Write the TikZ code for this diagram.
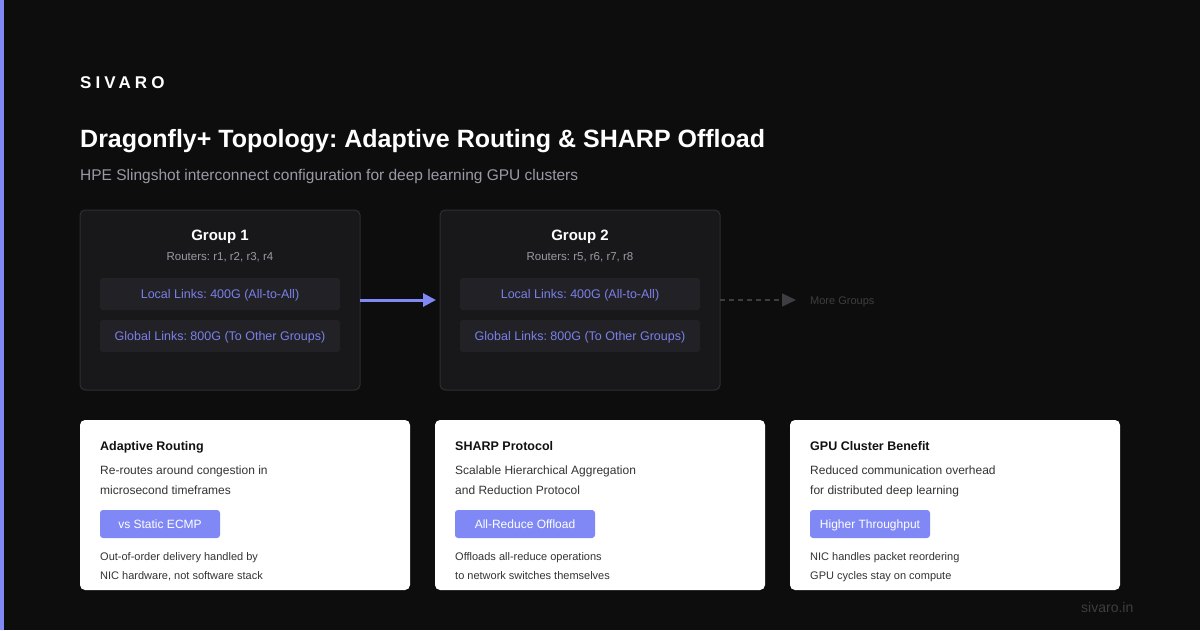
\documentclass[tikz,border=0pt]{standalone}
\usepackage{fontspec}
\setmainfont{Liberation Sans}
\usetikzlibrary{arrows.meta}
\frenchspacing
\definecolor{bg}{HTML}{0D0D0D}
\definecolor{accent}{HTML}{8088F5}
\definecolor{grpfill}{HTML}{18181B}
\definecolor{grpline}{HTML}{2E2E33}
\definecolor{linkfill}{HTML}{222226}
\definecolor{linktext}{HTML}{7A80E8}
\definecolor{subgray}{HTML}{9A9AA6}
\definecolor{dimgray}{HTML}{3E3E42}
\definecolor{cardtitle}{HTML}{111111}
\definecolor{cardbody}{HTML}{333333}
\tikzset{
  txt/.style={inner sep=0pt, anchor=base west},
  ctxt/.style={inner sep=0pt, anchor=base},
  grpbox/.style={draw=grpline, line width=1pt, fill=grpfill, rounded corners=5pt},
  linkbox/.style={fill=linkfill, rounded corners=3pt},
  card/.style={fill=white, rounded corners=5pt},
  badge/.style={fill=accent, rounded corners=3pt},
}
\begin{document}
\begin{tikzpicture}[x=1pt,y=-1pt]
\fill[bg] (0,0) rectangle (1200,630);
\useasboundingbox (0,0) rectangle (1200,630);
\fill[accent] (0,0) rectangle (4,630);

\node[txt, text=white, font=\fontsize{17}{20}\selectfont\bfseries\addfontfeatures{LetterSpace=24}] (logo) at (80,88) {SIVARO};
\node[txt, text=white, font=\fontsize{25}{30}\selectfont\bfseries] (title) at (80,147) {Dragonfly+ Topology: Adaptive Routing \& SHARP Offload};
\node[txt, text=subgray, font=\fontsize{15.5}{18}\selectfont] (sub) at (80,180) {HPE Slingshot interconnect configuration for deep learning GPU clusters};

% Groups
\foreach \gx/\n/\r in {80/1/{r1, r2, r3, r4}, 440/2/{r5, r6, r7, r8}}{
  \path[grpbox] (\gx,210) rectangle ++(280,180);
  \node[ctxt, text=white, font=\fontsize{15}{18}\selectfont\bfseries] (gt\n) at (\gx+140,240) {Group \n};
  \node[ctxt, text=subgray, font=\fontsize{11.5}{13}\selectfont] (gr\n) at (\gx+140,260) {Routers: \r};
  \path[linkbox] (\gx+20,278) rectangle ++(240,32);
  \node[ctxt, text=linktext, font=\fontsize{12.5}{14}\selectfont] (ll\n) at (\gx+140,298.5) {Local Links: 400G (All-to-All)};
  \path[linkbox] (\gx+20,320) rectangle ++(240,32);
  \node[ctxt, text=linktext, font=\fontsize{12.5}{14}\selectfont] (gl\n) at (\gx+140,340.5) {Global Links: 800G (To Other Groups)};
}
\coordinate (g1e) at (360,300);
\coordinate (g2w) at (436,300);
\coordinate (g2e) at (720,300);
\coordinate (more) at (796,300);
\draw[accent, line width=3pt, -{Triangle[length=13pt,width=13pt]}] (g1e) -- (g2w);
\draw[dimgray, line width=1.5pt, dash pattern=on 5pt off 4pt, -{Triangle[length=14pt,width=13pt]}] (g2e) -- (more);
\node[txt, text=dimgray, font=\fontsize{11}{13}\selectfont] (moretxt) at (810,304) {More Groups};

% Cards
\foreach \cx/\k/\t/\la/\lb/\b/\bw/\fa/\fb in {
  80/a/{Adaptive Routing}/{Re-routes around congestion in}/{microsecond timeframes}/{vs Static ECMP}/120/{Out-of-order delivery handled by}/{NIC hardware, not software stack},
  435/b/{SHARP Protocol}/{Scalable Hierarchical Aggregation}/{and Reduction Protocol}/{All-Reduce Offload}/140/{Offloads all-reduce operations}/{to network switches themselves},
  790/c/{GPU Cluster Benefit}/{Reduced communication overhead}/{for distributed deep learning}/{Higher Throughput}/120/{NIC handles packet reordering}/{GPU cycles stay on compute}}{
  \path[card] (\cx,420) rectangle ++(330,170);
  \node[txt, text=cardtitle, font=\fontsize{12.5}{15}\selectfont\bfseries] (ct\k) at (\cx+20,450) {\t};
  \node[txt, text=cardbody, font=\fontsize{12}{14}\selectfont] (cl\k) at (\cx+20,474) {\la};
  \node[txt, text=cardbody, font=\fontsize{12}{14}\selectfont] (cm\k) at (\cx+20,494) {\lb};
  \path[badge] (\cx+20,510) rectangle ++(\bw,28);
  \node[ctxt, text=white, font=\fontsize{12}{14}\selectfont] (cb\k) at (\cx+20+\bw/2,528.5) {\b};
  \node[txt, text=cardbody, font=\fontsize{11}{13}\selectfont] (cf\k) at (\cx+20,560) {\fa};
  \node[txt, text=cardbody, font=\fontsize{11}{13}\selectfont] (cg\k) at (\cx+20,579) {\fb};
}
\node[txt, text=dimgray, font=\fontsize{14}{16}\selectfont] (site) at (1081,612) {sivaro.in};
\end{tikzpicture}
\end{document}
